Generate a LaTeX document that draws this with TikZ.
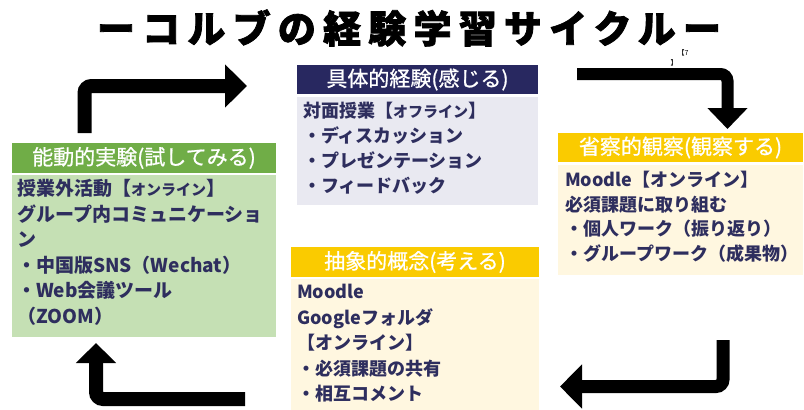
\documentclass[tikz,border=0pt]{standalone}
\usepackage{fontspec}
\usetikzlibrary{arrows.meta}
\newfontfamily\jp{Noto Sans CJK JP}
\definecolor{navy}{HTML}{282860}
\definecolor{navytxt}{HTML}{2E2E5E}
\definecolor{greybody}{HTML}{E9E9F1}
\definecolor{gold}{HTML}{FACB00}
\definecolor{cream}{HTML}{FFF7E0}
\definecolor{grhead}{HTML}{70AD47}
\definecolor{grbody}{HTML}{C5E0B4}
\tikzset{
  hdr/.style={inner sep=0pt, text=white, font=\jp\fontsize{21}{24}\selectfont\addfontfeature{FakeBold=0.8}},
  bodybox/.style={inner sep=0pt},
  bodytext/.style={inner sep=0pt, anchor=north west, align=left, text=navytxt, font=\jp\bfseries\fontsize{18}{25}\selectfont},
  blockarrow/.style={draw=black, line width=14pt, rounded corners=7pt},
}
\newcommand{\sm}[1]{{\fontsize{15}{25}\selectfont #1}}
\begin{document}
\begin{tikzpicture}[x=1pt,y=-1pt]
\useasboundingbox (0,0) rectangle (804,410);
% title
\node[inner sep=0pt, font=\jp\bfseries\fontsize{38}{40}\selectfont\addfontfeature{LetterSpace=19,FakeBold=2}] (title) at (409,28) {ーコルブの経験学習サイクルー};
\node[inner sep=0pt, font=\jp\fontsize{7}{8}\selectfont] (note1) at (683,53) {【7};
\node[inner sep=0pt, font=\jp\fontsize{7}{8}\selectfont] (note2) at (674,63) {】};
% top box
\node[bodybox, fill=navy, minimum width=241pt, minimum height=29pt] (h1) at (417.5,79.5) {};
\node[hdr] (h1t) at (h1.center) {具体的経験(感じる)};
\node[bodybox, fill=greybody, minimum width=241pt, minimum height=108pt] (b1) at (417.5,151) {};
\node[bodytext] (b1t) at (303,102) {対面授業【\sm{オフライン}】\\・ディスカッション\\・プレゼンテーション\\・フィードバック};
% right box
\node[bodybox, fill=gold, minimum width=245pt, minimum height=29pt] (h2) at (680.5,147.5) {};
\node[hdr] (h2t) at (h2.center) {省察的観察(観察する)};
\node[bodybox, fill=cream, minimum width=245pt, minimum height=110pt] (b2) at (680.5,220) {};
\node[bodytext, font=\jp\bfseries\fontsize{18}{24.5}\selectfont] (b2t) at (565,171) {Moodle【オンライン】\\必須課題に取り組む\\・個人ワーク（振り返り）\\・グループワーク（成果物）};
% left box
\node[bodybox, fill=grhead, minimum width=264pt, minimum height=30pt] (h3) at (144,158) {};
\node[hdr] (h3t) at (h3.center) {能動的実験(試してみる)};
\node[bodybox, fill=grbody, minimum width=264pt, minimum height=162pt] (b3) at (144,256) {};
\node[bodytext, font=\jp\bfseries\fontsize{19}{25.6}\selectfont] (b3t) at (17,179) {授業外活動【\sm{オンライン}】\\グループ内コミュニケーショ\\ン\\・中国版SNS（Wechat）\\・Web会議ツール\\（ZOOM）};
% bottom box
\node[bodybox, fill=gold, minimum width=248pt, minimum height=30pt] (h4) at (415,262) {};
\node[hdr] (h4t) at (h4.center) {抽象的概念(考える)};
\node[bodybox, fill=cream, minimum width=248pt, minimum height=131pt] (b4) at (415,344.5) {};
\node[bodytext, font=\jp\bfseries\fontsize{18}{25.5}\selectfont] (b4t) at (297,284) {Moodle\\Googleフォルダ\\【オンライン】\\・必須課題の共有\\・相互コメント};
% arrows
\coordinate (a1s) at (84.5,133);
\coordinate (a1c) at (84.5,86);
\coordinate (a1e) at (247,86);
\draw[blockarrow, -{Triangle[length=22pt,width=42pt]}] (a1s) -- (a1c) -- (a1e);
\coordinate (a2s) at (577,74);
\coordinate (a2c) at (727.5,74);
\coordinate (a2e) at (727.5,129);
\draw[blockarrow, line width=12pt, -{Triangle[length=21pt,width=39pt]}] (a2s) -- (a2c) -- (a2e);
\coordinate (a3s) at (723,340);
\coordinate (a3c) at (723,386.5);
\coordinate (a3e) at (560,386.5);
\draw[blockarrow, line width=13pt, -{Triangle[length=22pt,width=43pt]}] (a3s) -- (a3c) -- (a3e);
\coordinate (a4s) at (245,399);
\coordinate (a4c) at (96,399);
\coordinate (a4e) at (96,343);
\draw[blockarrow, -{Triangle[length=20pt,width=39pt]}] (a4s) -- (a4c) -- (a4e);
\end{tikzpicture}
\end{document}
